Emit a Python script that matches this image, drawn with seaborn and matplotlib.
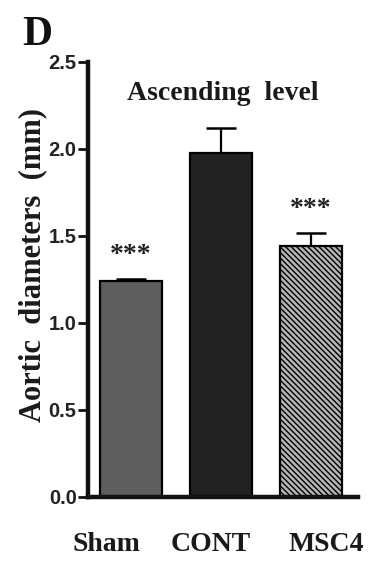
import numpy as np
import pandas as pd
import matplotlib
matplotlib.use("Agg")
import matplotlib.pyplot as plt
import matplotlib.transforms as mtransforms
import seaborn as sns

# Aortic diameter at the ascending level, mean + SEM per group
groups = ["Sham", "CONT", "MSC4"]
means = [1.24, 1.975, 1.443]
sems = [0.012, 0.145, 0.073]
stars = ["***", "", "***"]
yticks = [0.0, 0.5, 1.0, 1.5, 2.0, 2.5]

bar_colors = ["#5e5e5e", "#222222", "#b6b6b6"]

sns.set_theme(style="ticks")
plt.rcParams["font.family"] = ["Liberation Serif", "DejaVu Serif"]
plt.rcParams["hatch.linewidth"] = 1.0
plt.rcParams["hatch.color"] = "#868686"

df = pd.DataFrame({"group": groups, "mean": means})

fig = plt.figure(figsize=(3.71, 5.62), dpi=100)
ax = fig.add_axes([0.2385, 0.1157, 0.7264, 0.7746])

sns.barplot(data=df, x="group", y="mean", hue="group", palette=bar_colors,
            legend=False, errorbar=None, width=0.68, edgecolor="black",
            linewidth=1.6, saturation=1, ax=ax, zorder=2)
ax.patches[2].set_hatch("\\\\\\\\\\\\")

# upper error bars only
x = np.arange(len(groups))
ax.errorbar(x, means, yerr=[np.zeros(len(groups)), sems], fmt="none",
            ecolor="black", elinewidth=1.6, capsize=11, capthick=1.8, zorder=1)

# significance marks
for xi, m, s, lab in zip(x, means, sems, stars):
    if lab:
        ax.text(xi, m + s + 0.1, lab, ha="center", va="baseline",
                fontsize=20, fontweight="bold", color="#222222")

ax.set_ylim(0, 2.5)
ax.set_xlim(-0.472, 2.522)
ax.set_yticks(yticks)
ax.set_yticklabels([f"{t:.1f}" for t in yticks], family="Liberation Sans",
                   fontweight="bold", fontsize=14.5, color="#222222")
ax.tick_params(axis="y", length=7, width=2, pad=1.5, color="#111111")
ax.tick_params(axis="x", length=0, pad=25)
ax.set_xlabel("")
ax.set_xticks(x)
ax.set_xticklabels(groups, fontsize=20, fontweight="bold", color="#1a1a1a")
for lab, dx in zip(ax.get_xticklabels(), [-25, -10, 15]):
    lab.set_transform(lab.get_transform() +
                      mtransforms.ScaledTranslation(dx / 100, 0, fig.dpi_scale_trans))

for side in ["top", "right"]:
    ax.spines[side].set_visible(False)
for side in ["left", "bottom"]:
    ax.spines[side].set_linewidth(3.2)
    ax.spines[side].set_color("#111111")

ax.set_ylabel("Aortic  diameters  (mm)", fontsize=22, fontweight="bold",
              color="#1a1a1a")
ax.yaxis.set_label_coords(-0.152, 0.533)

ax.text(0.5, 2.28, "Ascending  level", transform=ax.get_yaxis_transform(),
        ha="center", va="baseline", fontsize=20, fontweight="bold",
        color="#1a1a1a")

fig.text(22 / 371, 1 - 45 / 562, "D", ha="left", va="baseline",
         fontsize=30, fontweight="bold", color="#111111")

fig.savefig("out.png", dpi=100, facecolor="white")
